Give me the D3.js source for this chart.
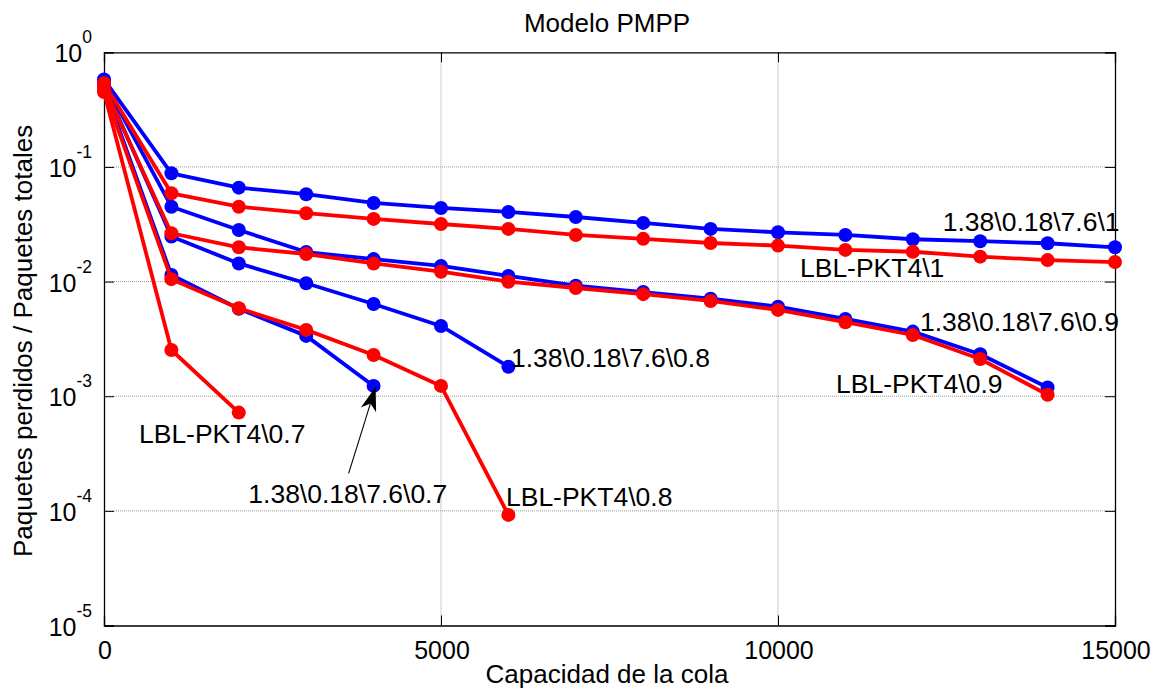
<!DOCTYPE html>
<html>
<head>
<meta charset="utf-8">
<script src="https://cdn.jsdelivr.net/npm/d3@7"></script>
<style>
  html, body { margin: 0; padding: 0; background: #fff; }
  svg text { font-family: "Liberation Sans", Arial, sans-serif; fill: #000; }
</style>
</head>
<body>
<svg id="chart" width="1161" height="698"></svg>
<script>
// Queue capacity (x axis)
const capacity = [0, 1000, 2000, 3000, 4000, 5000, 6000, 7000, 8000, 9000, 10000, 11000, 12000, 13000, 14000, 15000];

// Loss ratio per model / load (blue: 1.38\0.18\7.6\ρ, red: LBL-PKT4\ρ)
const mmpp_1   = [0.58, 0.088, 0.066, 0.0578, 0.0485, 0.0439, 0.0405, 0.0366, 0.0325, 0.0288, 0.0269, 0.0255, 0.0234, 0.0225, 0.0216, 0.0199];
const mmpp_09  = [0.55, 0.045, 0.0282, 0.0181, 0.0157, 0.0137, 0.0112, 0.0092, 0.0081, 0.0071, 0.00604, 0.00472, 0.00366, 0.00232, 0.00119];
const mmpp_08  = [0.52, 0.0247, 0.0144, 0.00966, 0.00638, 0.0041, 0.00181];
const mmpp_07  = [0.50, 0.0114, 0.0058, 0.00336, 0.00123];
const lbl_1    = [0.54, 0.0589, 0.045, 0.0395, 0.0352, 0.0318, 0.0288, 0.0255, 0.0236, 0.0217, 0.0206, 0.0189, 0.0182, 0.0165, 0.0154, 0.0148];
const lbl_09   = [0.50, 0.0264, 0.0199, 0.0174, 0.0144, 0.0122, 0.00998, 0.00879, 0.00777, 0.00678, 0.00566, 0.00442, 0.00342, 0.00211, 0.00103];
const lbl_08   = [0.47, 0.0105, 0.00585, 0.00379, 0.00229, 0.00123, 0.0000922];
const lbl_07   = [0.45, 0.00253, 0.00072];

// Axis ticks
const xTicks = [0, 5000, 10000, 15000];
const yExponents = [0, -1, -2, -3, -4, -5];

// Text labels
const titleText = "Modelo PMPP";
const xLabel = "Capacidad de la cola";
const yLabel = "Paquetes perdidos / Paquetes totales";

const series = [
  { values: mmpp_1,  color: "#0000ff" },
  { values: mmpp_09, color: "#0000ff" },
  { values: mmpp_08, color: "#0000ff" },
  { values: mmpp_07, color: "#0000ff" },
  { values: lbl_1,   color: "#ff0000" },
  { values: lbl_09,  color: "#ff0000" },
  { values: lbl_08,  color: "#ff0000" },
  { values: lbl_07,  color: "#ff0000" }
];

// Curve annotations: text, anchor point (start of baseline) in data units
const annotations = [
  { text: "1.38\\0.18\\7.6\\1",   x: 12444, y: 0.0278 },
  { text: "LBL-PKT4\\1",          x: 10326, y: 0.0109 },
  { text: "1.38\\0.18\\7.6\\0.9", x: 12107, y: 0.00371 },
  { text: "LBL-PKT4\\0.9",        x: 10861, y: 0.001067 },
  { text: "1.38\\0.18\\7.6\\0.8", x: 6039,  y: 0.001787 },
  { text: "LBL-PKT4\\0.8",        x: 5964,  y: 0.0001109 },
  { text: "1.38\\0.18\\7.6\\0.7", x: 2141,  y: 0.0001164 },
  { text: "LBL-PKT4\\0.7",        x: 519,   y: 0.000388 }
];

const svg = d3.select("#chart");
const plotLeft = 104, plotRight = 1115, plotTop = 52.3, plotBottom = 625.5;

const x = d3.scaleLinear().domain([0, 15000]).range([plotLeft, plotRight]);
const y = d3.scaleLog().domain([1e-5, 1]).range([plotBottom, plotTop]);

// Grid
const grid = svg.append("g");
grid.selectAll("line.gx").data(xTicks.slice(1, -1)).join("line")
  .attr("x1", d => x(d)).attr("x2", d => x(d))
  .attr("y1", plotTop).attr("y2", plotBottom)
  .attr("stroke", "#9a9a9a").attr("stroke-width", 1).attr("stroke-dasharray", "1,1");
grid.selectAll("line.gy").data(yExponents.slice(1, -1)).join("line")
  .attr("x1", plotLeft).attr("x2", plotRight)
  .attr("y1", d => y(Math.pow(10, d))).attr("y2", d => y(Math.pow(10, d)))
  .attr("stroke", "#9a9a9a").attr("stroke-width", 1).attr("stroke-dasharray", "1,1");

// Axes (ticks point inward, mirrored on top/right)
const tickLen = 10;
const axBottom = d3.axisBottom(x).tickValues(xTicks).tickSize(-tickLen).tickFormat("");
const axTop = d3.axisTop(x).tickValues(xTicks).tickSize(-tickLen).tickFormat("");
const yTickVals = yExponents.map(e => Math.pow(10, e));
const axLeft = d3.axisLeft(y).tickValues(yTickVals).tickSize(-tickLen).tickFormat("");
const axRight = d3.axisRight(y).tickValues(yTickVals).tickSize(-tickLen).tickFormat("");

function styleAxis(g) {
  g.select(".domain").attr("stroke", "#000").attr("stroke-width", 1.3);
  g.selectAll(".tick line").attr("stroke", "#000").attr("stroke-width", 1);
}
svg.append("g").attr("transform", `translate(0,${plotBottom})`).call(axBottom).call(styleAxis);
svg.append("g").attr("transform", `translate(0,${plotTop})`).call(axTop).call(styleAxis);
svg.append("g").attr("transform", `translate(${plotLeft},0)`).call(axLeft).call(styleAxis);
svg.append("g").attr("transform", `translate(${plotRight},0)`).call(axRight).call(styleAxis);

// Tick labels
svg.append("g").selectAll("text").data(xTicks).join("text")
  .attr("x", d => x(d) + 1).attr("y", 659)
  .attr("text-anchor", "middle").attr("font-size", 25)
  .text(d => d);

const yl = svg.append("g").selectAll("text").data(yExponents).join("text")
  .attr("x", 92).attr("y", d => y(Math.pow(10, d)) + 10)
  .attr("text-anchor", "end").attr("font-size", 25);
yl.append("tspan").text("10");
yl.append("tspan").attr("dy", -19).attr("font-size", 17.5).text(d => d);

// Series lines and markers
const line = d3.line().x((d, i) => x(capacity[i])).y(d => y(d));
series.forEach(s => {
  const g = svg.append("g");
  g.append("path").datum(s.values).attr("d", line)
    .attr("fill", "none").attr("stroke", s.color).attr("stroke-width", 3.8)
    .attr("stroke-linejoin", "round");
  g.selectAll("circle").data(s.values).join("circle")
    .attr("cx", (d, i) => x(capacity[i])).attr("cy", d => y(d))
    .attr("r", 7).attr("fill", s.color);
});

// Annotations
svg.append("g").selectAll("text").data(annotations).join("text")
  .attr("x", d => x(d.x)).attr("y", d => y(d.y))
  .attr("font-size", 26.5).text(d => d.text);

// Arrow pointing at the last point of the 0.7 curve
const tipX = x(capacity[mmpp_07.length - 1]) + 2, tipY = y(mmpp_07[mmpp_07.length - 1]) + 1;
const tailX = x(3630), tailY = y(0.000212);
svg.append("line")
  .attr("x1", tailX).attr("y1", tailY).attr("x2", tipX).attr("y2", tipY)
  .attr("stroke", "#000").attr("stroke-width", 1.1);
const ang = Math.atan2(tipY - tailY, tipX - tailX);
const hl = 24, hw = 8;
const bx = tipX - hl * Math.cos(ang), by = tipY - hl * Math.sin(ang);
const nx = -Math.sin(ang), ny = Math.cos(ang);
const nbx = tipX - hl * 0.72 * Math.cos(ang), nby = tipY - hl * 0.72 * Math.sin(ang);
svg.append("path")
  .attr("d", `M${tipX},${tipY} L${bx + nx * hw},${by + ny * hw} L${nbx},${nby} L${bx - nx * hw},${by - ny * hw} Z`)
  .attr("fill", "#000");

// Title and axis labels
svg.append("text").attr("x", 607).attr("y", 32).attr("text-anchor", "middle")
  .attr("font-size", 26).text(titleText);
svg.append("text").attr("x", 607).attr("y", 683).attr("text-anchor", "middle")
  .attr("font-size", 26).text(xLabel);
svg.append("text").attr("transform", `translate(32,${(plotTop + plotBottom) / 2 + 2}) rotate(-90)`)
  .attr("text-anchor", "middle").attr("font-size", 26).text(yLabel);
</script>
</body>
</html>
